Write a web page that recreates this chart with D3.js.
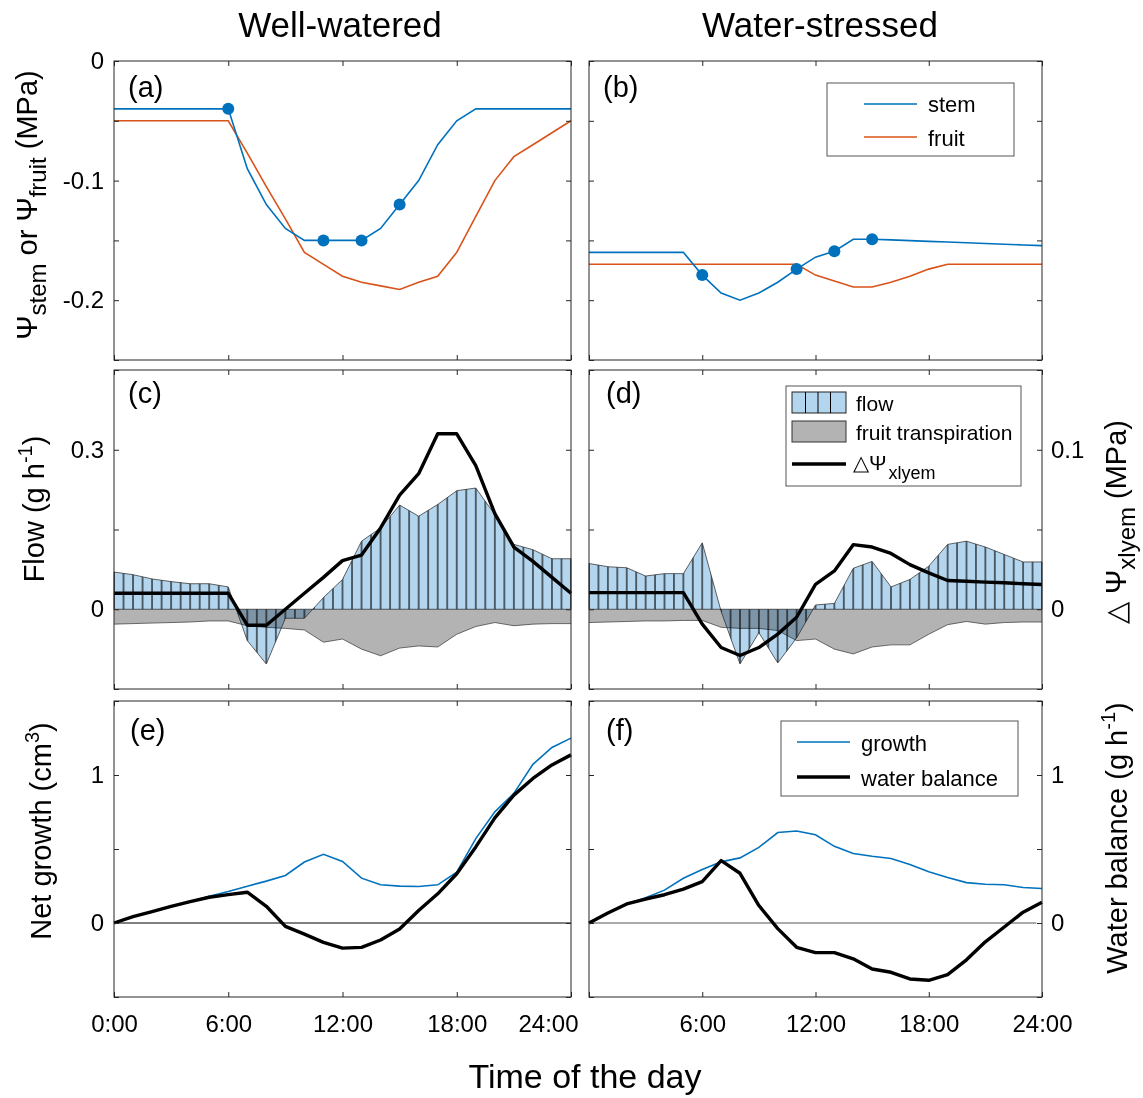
<!DOCTYPE html>
<html><head><meta charset="utf-8">
<script src="https://cdn.jsdelivr.net/npm/d3@7"></script>
<style>
body{margin:0;background:#fff}
text{font-family:"Liberation Sans",Arial,Helvetica,sans-serif;fill:#000}
</style>
</head><body>
<svg id="chart" width="1143" height="1098"></svg>
<script>
// ---------------- DATA ----------------
const hours = [0,1,2,3,4,5,6,7,8,9,10,11,12,13,14,15,16,17,18,19,20,21,22,23,24];
const xTickValues = [0,6,12,18,24];
const xTickLabels = ["0:00","6:00","12:00","18:00","24:00"];

// (a) well-watered water potentials (MPa)
const stemWW  = [-0.04,-0.04,-0.04,-0.04,-0.04,-0.04,-0.04,-0.09,-0.12,-0.14,-0.15,-0.15,-0.15,-0.15,-0.14,-0.12,-0.10,-0.07,-0.05,-0.04,-0.04,-0.04,-0.04,-0.04,-0.04];
const fruitWW = [-0.05,-0.05,-0.05,-0.05,-0.05,-0.05,-0.05,-0.077,-0.105,-0.132,-0.16,-0.17,-0.18,-0.185,-0.188,-0.191,-0.185,-0.18,-0.16,-0.13,-0.10,-0.08,-0.07,-0.06,-0.05];
const markHoursWW = [6,11,13,15];
// (b) water-stressed
const stemWS  = [-0.16,-0.16,-0.16,-0.16,-0.16,-0.16,-0.179,-0.194,-0.2,-0.194,-0.185,-0.174,-0.164,-0.159,-0.149,-0.149,-0.1496,-0.1502,-0.1508,-0.1514,-0.152,-0.1526,-0.1532,-0.1538,-0.1544];
const fruitWS = [-0.17,-0.17,-0.17,-0.17,-0.17,-0.17,-0.17,-0.17,-0.17,-0.17,-0.17,-0.17,-0.179,-0.184,-0.189,-0.189,-0.185,-0.18,-0.174,-0.17,-0.17,-0.17,-0.17,-0.17,-0.17];
const markHoursWS = [6,11,13,15];

// (c) well-watered flow, fruit transpiration (g h-1) and xylem delta psi (MPa)
const flowWW  = [0.07,0.065,0.057,0.052,0.048,0.048,0.042,-0.059,-0.103,-0.017,-0.017,0.022,0.056,0.128,0.153,0.196,0.175,0.197,0.223,0.228,0.178,0.122,0.112,0.095,0.095];
const transWW = [-0.028,-0.027,-0.026,-0.025,-0.024,-0.022,-0.022,-0.031,-0.034,-0.036,-0.039,-0.062,-0.056,-0.075,-0.0875,-0.073,-0.069,-0.071,-0.047,-0.0325,-0.025,-0.031,-0.028,-0.027,-0.027];
const dpsiWW  = [0.01,0.01,0.01,0.01,0.01,0.01,0.01,-0.01,-0.01,0.0,0.01,0.02,0.0305,0.034,0.051,0.0716,0.085,0.11,0.11,0.09,0.06,0.039,0.03,0.02,0.01];
// (d) water-stressed
const flowWS  = [0.086,0.08,0.078,0.0625,0.067,0.067,0.125,-0.004,-0.103,-0.044,-0.101,-0.054,0.008,0.011,0.077,0.09,0.042,0.056,0.081,0.122,0.128,0.117,0.103,0.089,0.089];
const transWS = [-0.025,-0.024,-0.023,-0.022,-0.022,-0.021,-0.021,-0.034,-0.036,-0.036,-0.04,-0.059,-0.056,-0.075,-0.084,-0.071,-0.067,-0.067,-0.047,-0.029,-0.023,-0.028,-0.025,-0.024,-0.024];
const dpsiWS  = [0.0104,0.0104,0.0104,0.0104,0.0104,0.0104,-0.0093,-0.024,-0.029,-0.024,-0.0156,-0.005,0.0156,0.024,0.0405,0.039,0.035,0.028,0.0228,0.018,0.0176,0.017,0.0166,0.016,0.0155];

// (e) well-watered net growth (cm3) and water balance (g h-1)
const growthWW = [0,0.043,0.077,0.113,0.145,0.18,0.213,0.249,0.283,0.321,0.412,0.464,0.416,0.303,0.258,0.249,0.247,0.258,0.344,0.57,0.751,0.876,1.072,1.186,1.249];
const balanceWW = [0,0.043,0.077,0.113,0.145,0.174,0.192,0.208,0.113,-0.023,-0.075,-0.131,-0.17,-0.165,-0.115,-0.041,0.084,0.197,0.333,0.514,0.71,0.864,0.977,1.068,1.136];
// (f) water-stressed
const growthWS = [0,0.067,0.129,0.17,0.222,0.302,0.362,0.413,0.44,0.511,0.611,0.622,0.596,0.518,0.469,0.451,0.436,0.396,0.347,0.307,0.273,0.262,0.258,0.24,0.233];
const balanceWS = [0,0.067,0.129,0.162,0.191,0.229,0.28,0.422,0.336,0.118,-0.038,-0.164,-0.2,-0.2,-0.242,-0.311,-0.333,-0.378,-0.387,-0.349,-0.249,-0.127,-0.027,0.073,0.14];

// tick values / labels
const psiTicks = [-0.25,-0.2,-0.15,-0.1,-0.05,0];
const psiLabels = {"0":"0","-0.1":"-0.1","-0.2":"-0.2"};
const flowTicks = [-0.15,0,0.15,0.3,0.45];
const flowLabels = {"0":"0","0.3":"0.3"};
const dpsiTicks = [-0.05,0,0.05,0.1,0.15];
const dpsiLabels = {"0":"0","0.1":"0.1"};
const growthTicks = [-0.5,0,0.5,1,1.5];
const growthLabels = {"0":"0","1":"1"};

// ---------------- LAYOUT ----------------
const svg = d3.select("#chart");
const colL = [114,571], colR = [589,1042];
const rowA = [61,360], rowC = [370,689], rowE = [701,997];
const BLUE = "#0072BD", ORANGE = "#D95319", AX = "#262626";
const FLOWFILL = "#b4d5ee", TRANSFILL = "#b3b3b3";
const FONT = '"Liberation Sans",Arial,Helvetica,sans-serif';

const defs = svg.append("defs");

function fmt(map){ return d => { const k = String(+d.toFixed(3)); return map && map[k] !== undefined ? map[k] : ""; }; }

function axes(x, yL, yR, col, row, o){
  const g = svg.append("g");
  const bx = d3.axisBottom(x).tickValues(xTickValues).tickSizeInner(-5).tickSizeOuter(0).tickPadding(18)
     .tickFormat(o.xLabels ? (d,i)=>xTickLabels[i] : ()=> "");
  const gb = g.append("g").attr("transform",`translate(0,${row[1]})`).call(bx);
  const tx = d3.axisTop(x).tickValues(xTickValues).tickSizeInner(-5).tickSizeOuter(0).tickFormat(()=> "");
  g.append("g").attr("transform",`translate(0,${row[0]})`).call(tx);
  const ly = d3.axisLeft(yL).tickValues(o.lTicks).tickSizeInner(-5).tickSizeOuter(0).tickPadding(10).tickFormat(fmt(o.lLabels));
  g.append("g").attr("transform",`translate(${col[0]},0)`).call(ly);
  const ry = d3.axisRight(yR).tickValues(o.rTicks).tickSizeInner(-5).tickSizeOuter(0).tickPadding(9).tickFormat(fmt(o.rLabels));
  g.append("g").attr("transform",`translate(${col[1]},0)`).call(ry);
  g.selectAll(".domain").remove();
  g.selectAll(".tick line").attr("stroke",AX).attr("stroke-width",1);
  g.selectAll(".tick text").attr("font-size",24).attr("fill",AX).attr("font-family",FONT);
  g.append("rect").attr("x",col[0]).attr("y",row[0]).attr("width",col[1]-col[0]).attr("height",row[1]-row[0])
    .attr("fill","none").attr("stroke",AX).attr("stroke-width",1);
  return {gb};
}

function panelLabel(txt, x, y){
  svg.append("text").attr("x",x).attr("y",y).attr("font-size",29).text(txt);
}

// ---------- (a) & (b) ----------
function psiPanel(col, stem, fruit, marks, label, lblX, showLabels){
  const x = d3.scaleLinear().domain([0,24]).range(col);
  const y = d3.scaleLinear().domain([-0.25,0]).range([rowA[1],rowA[0]]);
  const line = d3.line().x((d,i)=>x(hours[i])).y(d=>y(d));
  svg.append("path").attr("d",line(fruit)).attr("fill","none").attr("stroke",ORANGE).attr("stroke-width",1.6);
  svg.append("path").attr("d",line(stem)).attr("fill","none").attr("stroke",BLUE).attr("stroke-width",1.6);
  svg.selectAll(null).data(marks).enter().append("circle")
    .attr("cx",h=>x(h)).attr("cy",h=>y(stem[hours.indexOf(h)])).attr("r",6).attr("fill",BLUE);
  axes(x,y,y,col,rowA,{lTicks:psiTicks,rTicks:psiTicks,lLabels:showLabels?psiLabels:null,rLabels:null});
  panelLabel(label,lblX,97);
  return x;
}
psiPanel(colL, stemWW, fruitWW, markHoursWW, "(a)", 128, true);
psiPanel(colR, stemWS, fruitWS, markHoursWS, "(b)", 603, false);

// legend (b)
{
  const g = svg.append("g");
  g.append("rect").attr("x",827).attr("y",83).attr("width",187).attr("height",73).attr("fill","#fff").attr("stroke","#555").attr("stroke-width",1);
  g.append("line").attr("x1",864).attr("x2",917).attr("y1",104).attr("y2",104).attr("stroke",BLUE).attr("stroke-width",1.6);
  g.append("line").attr("x1",864).attr("x2",917).attr("y1",137).attr("y2",137).attr("stroke",ORANGE).attr("stroke-width",1.6);
  g.append("text").attr("x",928).attr("y",112).attr("font-size",22).text("stem");
  g.append("text").attr("x",928).attr("y",146).attr("font-size",22).text("fruit");
}

// ---------- (c) & (d) ----------
function flowPanel(col, flow, trans, dpsi, label, lblX, showL, showR, id){
  const x = d3.scaleLinear().domain([0,24]).range(col);
  const y = d3.scaleLinear().domain([-0.15,0.45]).range([rowC[1],rowC[0]]);
  const y2 = d3.scaleLinear().domain([-0.05,0.15]).range([rowC[1],rowC[0]]);
  const dx = x(0.5)-x(0);
  const pat = defs.append("pattern").attr("id","hatch"+id).attr("patternUnits","userSpaceOnUse")
     .attr("x",x(0)-dx/2).attr("y",0).attr("width",dx).attr("height",1098);
  pat.append("line").attr("x1",dx/2).attr("x2",dx/2).attr("y1",0).attr("y2",1098).attr("stroke","#000").attr("stroke-width",1.1);

  const areaT = d3.area().x((d,i)=>x(hours[i])).y0(y(0)).y1(d=>y(d));
  svg.append("path").attr("d",areaT(trans)).attr("fill",TRANSFILL).attr("stroke","none");
  const lineT = d3.line().x((d,i)=>x(hours[i])).y(d=>y(d));
  svg.append("path").attr("d",lineT(trans)).attr("fill","none").attr("stroke","#333").attr("stroke-width",0.7);

  const areaF = d3.area().x((d,i)=>x(hours[i])).y0(y(0)).y1(d=>y(d));
  svg.append("path").attr("d",areaF(flow)).attr("fill",FLOWFILL).style("mix-blend-mode","multiply");
  svg.append("path").attr("d",areaF(flow)).attr("fill",`url(#hatch${id})`);
  svg.append("path").attr("d",areaF(flow)).attr("fill","none").attr("stroke","#222").attr("stroke-width",0.7);

  const lineD = d3.line().x((d,i)=>x(hours[i])).y(d=>y2(d));
  svg.append("path").attr("d",lineD(dpsi)).attr("fill","none").attr("stroke","#000").attr("stroke-width",3.4).attr("stroke-linejoin","round");

  axes(x,y,y2,col,rowC,{lTicks:flowTicks,rTicks:dpsiTicks,lLabels:showL?flowLabels:null,rLabels:showR?dpsiLabels:null});
  panelLabel(label,lblX,403);
}
flowPanel(colL, flowWW, transWW, dpsiWW, "(c)", 128, true, false, "L");
flowPanel(colR, flowWS, transWS, dpsiWS, "(d)", 606, false, true, "R");

// legend (d)
{
  const g = svg.append("g");
  g.append("rect").attr("x",786).attr("y",386).attr("width",235).attr("height",100).attr("fill","#fff").attr("stroke","#555").attr("stroke-width",1);
  g.append("rect").attr("x",792).attr("y",392).attr("width",54).attr("height",21).attr("fill",FLOWFILL).attr("stroke","#222").attr("stroke-width",1);
  [805.5,818,830.5].forEach(lx=>g.append("line").attr("x1",lx).attr("x2",lx).attr("y1",392).attr("y2",413).attr("stroke","#000").attr("stroke-width",1));
  g.append("rect").attr("x",792).attr("y",421).attr("width",54).attr("height",21).attr("fill",TRANSFILL).attr("stroke","#333").attr("stroke-width",1);
  g.append("line").attr("x1",792).attr("x2",846).attr("y1",464).attr("y2",464).attr("stroke","#000").attr("stroke-width",3.4);
  g.append("text").attr("x",856).attr("y",411).attr("font-size",21).text("flow");
  g.append("text").attr("x",856).attr("y",440).attr("font-size",21).text("fruit transpiration");
  const t = g.append("text").attr("x",853).attr("y",470).attr("font-size",21);
  t.append("tspan").text("△Ψ");
  t.append("tspan").attr("dy",9).attr("font-size",18).attr("dx",2).text("xlyem");
}

// ---------- (e) & (f) ----------
function growthPanel(col, growth, bal, label, lblX, showL, showR, zeroEnd, zeroColor){
  const x = d3.scaleLinear().domain([0,24]).range(col);
  const y = d3.scaleLinear().domain([-0.5,1.5]).range([rowE[1],rowE[0]]);
  svg.append("line").attr("x1",x(0)).attr("x2",x(zeroEnd)).attr("y1",y(0)).attr("y2",y(0)).attr("stroke",zeroColor).attr("stroke-width",1);
  const line = d3.line().x((d,i)=>x(hours[i])).y(d=>y(d));
  svg.append("path").attr("d",line(growth)).attr("fill","none").attr("stroke",BLUE).attr("stroke-width",1.6);
  svg.append("path").attr("d",line(bal)).attr("fill","none").attr("stroke","#000").attr("stroke-width",3.4).attr("stroke-linejoin","round");
  const r = axes(x,y,y,col,rowE,{lTicks:growthTicks,rTicks:growthTicks,lLabels:showL?growthLabels:null,rLabels:showR?growthLabels:null,xLabels:true});
  panelLabel(label,lblX,740);
  return r;
}
const eAx = growthPanel(colL, growthWW, balanceWW, "(e)", 130, true, false, 24, "#000");
const fAx = growthPanel(colR, growthWS, balanceWS, "(f)", 606, false, true, 23.7, "#555");
// right column shares its "0:00" with the left "24:00", which sits left of the gap
fAx.gb.selectAll(".tick text").filter(d=>d===0).remove();
eAx.gb.selectAll(".tick text").filter(d=>d===24).attr("dx",-23);

// legend (f)
{
  const g = svg.append("g");
  g.append("rect").attr("x",781).attr("y",721).attr("width",237).attr("height",75).attr("fill","#fff").attr("stroke","#555").attr("stroke-width",1);
  g.append("line").attr("x1",797).attr("x2",850).attr("y1",742).attr("y2",742).attr("stroke",BLUE).attr("stroke-width",1.6);
  g.append("line").attr("x1",797).attr("x2",850).attr("y1",777).attr("y2",777).attr("stroke","#000").attr("stroke-width",3.4);
  g.append("text").attr("x",861).attr("y",751).attr("font-size",22).text("growth");
  g.append("text").attr("x",861).attr("y",786).attr("font-size",22).text("water balance");
}

// ---------- titles & axis labels ----------
svg.append("text").attr("x",340).attr("y",37).attr("text-anchor","middle").attr("font-size",35).text("Well-watered");
svg.append("text").attr("x",820).attr("y",37).attr("text-anchor","middle").attr("font-size",35).text("Water-stressed");
svg.append("text").attr("x",585).attr("y",1088).attr("text-anchor","middle").attr("font-size",34).text("Time of the day");

function vlabel(x, y, parts){
  const t = svg.append("text").attr("x",x).attr("y",y).attr("text-anchor","middle")
     .attr("transform",`rotate(-90,${x},${y})`).attr("font-size",29);
  parts.forEach(p=>{
    const s = t.append("tspan").text(p.t);
    if(p.dy) s.attr("dy",p.dy);
    if(p.fs) s.attr("font-size",p.fs);
  });
}
vlabel(37, 205, [{t:"Ψ"},{t:"stem",dy:9,fs:24},{t:" or Ψ",dy:-9},{t:"fruit",dy:9,fs:24},{t:" (MPa)",dy:-9}]);
vlabel(44, 509, [{t:"Flow (g h"},{t:"-1",dy:-12,fs:20},{t:")",dy:12}]);
vlabel(51, 831, [{t:"Net growth  (cm"},{t:"3",dy:-12,fs:20},{t:")",dy:12}]);
vlabel(1126, 522, [{t:"△ Ψ"},{t:"xlyem",dy:9,fs:24},{t:" (MPa)",dy:-9}]);
vlabel(1127, 838, [{t:"Water balance (g h"},{t:"-1",dy:-12,fs:20},{t:")",dy:12}]);
</script>
</body></html>
